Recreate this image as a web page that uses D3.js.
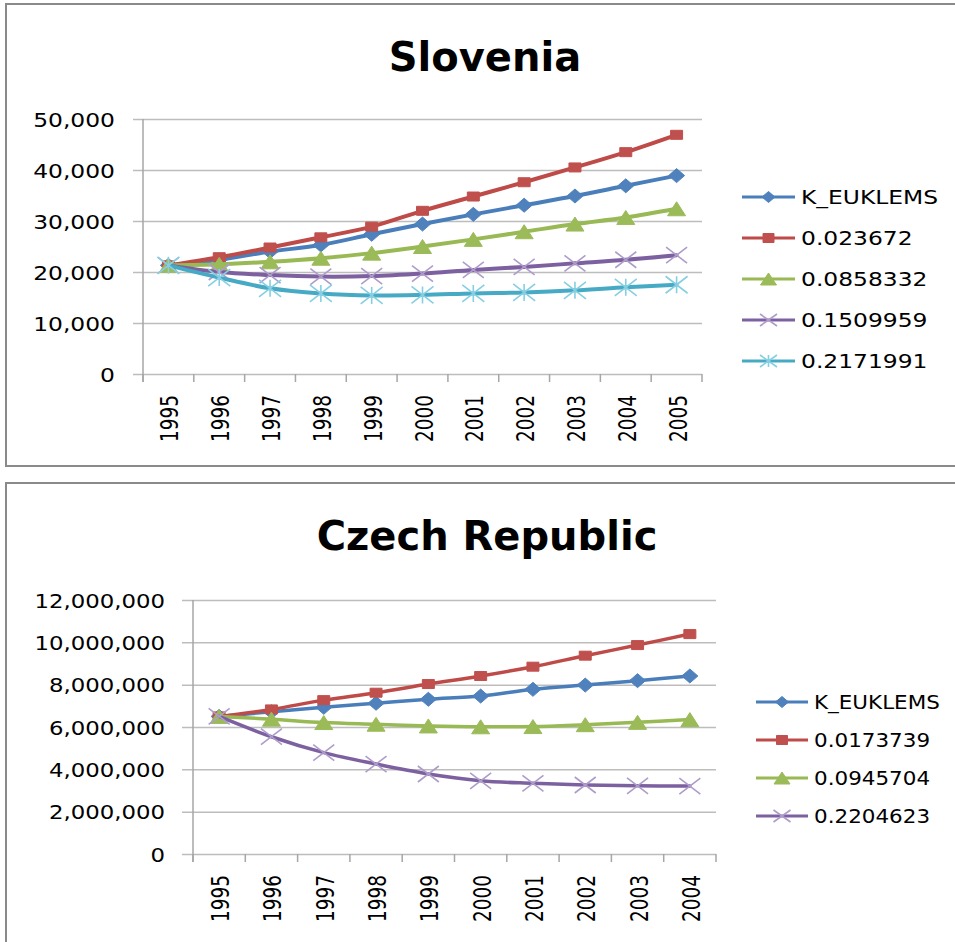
<!DOCTYPE html>
<html>
<head>
<meta charset="utf-8">
<script src="https://cdn.jsdelivr.net/npm/d3@7/dist/d3.min.js"></script>
<style>
  html, body { margin: 0; padding: 0; background: #fff; }
  svg { display: block; font-family: "DejaVu Sans", Verdana, sans-serif; }
</style>
</head>
<body>
<svg id="chart" width="955" height="942"></svg>
<script>
// ---------- data ----------
const sloYears = ["1995","1996","1997","1998","1999","2000","2001","2002","2003","2004","2005"];
const sloNames = ["K_EUKLEMS","0.023672","0.0858332","0.1509959","0.2171991"];
const sloK  = [21300, 22400, 24000, 25300, 27400, 29400, 31300, 33100, 34900, 36900, 38900];
const slo1  = [21300, 22900, 24800, 26800, 28900, 32000, 34800, 37600, 40500, 43500, 46900];
const slo2  = [21300, 21500, 22000, 22700, 23700, 25000, 26400, 27900, 29400, 30700, 32400];
const slo3  = [21300, 20000, 19400, 19100, 19200, 19700, 20400, 21000, 21700, 22400, 23300];
const slo4  = [21300, 18900, 16800, 15800, 15400, 15500, 15800, 16000, 16400, 17000, 17500];
const sloTicks = [0, 10000, 20000, 30000, 40000, 50000];

const czYears = ["1995","1996","1997","1998","1999","2000","2001","2002","2003","2004"];
const czNames = ["K_EUKLEMS","0.0173739","0.0945704","0.2204623"];
const czK = [6500000, 6720000, 6930000, 7120000, 7310000, 7460000, 7780000, 7980000, 8190000, 8410000];
const cz1 = [6500000, 6830000, 7270000, 7620000, 8030000, 8410000, 8850000, 9370000, 9870000, 10390000];
const cz2 = [6500000, 6370000, 6210000, 6130000, 6050000, 6010000, 6020000, 6110000, 6220000, 6350000];
const cz3 = [6500000, 5540000, 4790000, 4250000, 3780000, 3460000, 3340000, 3260000, 3220000, 3210000];
const czTicks = [0, 2000000, 4000000, 6000000, 8000000, 10000000, 12000000];

// ---------- styles ----------
const styles = [
  {line:"#4A7EBB", mark:"#4F81BD", shape:"diamond"},
  {line:"#BE4B48", mark:"#C0504D", shape:"square"},
  {line:"#98B954", mark:"#9BBB59", shape:"triangle"},
  {line:"#7D60A0", mark:"#AE9CCB", shape:"x"},
  {line:"#46AAC5", mark:"#86CFE2", shape:"star"}
];
const sizes = {
  diamond:[16,14], square:[12,9], triangle:[18,14], x:[21,16], star:[22,17]
};
const legSizes = {
  diamond:[13,11], square:[11,9], triangle:[16,12], x:[17,12], star:[17,12]
};

function markerPath(shape, w, h) {
  const a = w/2, b = h/2;
  switch (shape) {
    case "diamond": return `M0,${-b}L${a},0L0,${b}L${-a},0Z`;
    case "square": return `M${-a},${-b}L${a},${-b}L${a},${b}L${-a},${b}Z`;
    case "triangle": return `M0,${-b}L${a},${b}L${-a},${b}Z`;
    case "x": return `M${-a},${-b}L${a},${b}M${a},${-b}L${-a},${b}`;
    case "star": return `M${-a},${-b}L${a},${b}M${a},${-b}L${-a},${b}M0,${-b}L0,${b}`;
  }
}
function drawMarker(g, shape, color, w, h) {
  const filled = shape === "diamond" || shape === "square" || shape === "triangle";
  g.append("path").attr("d", markerPath(shape, w, h))
    .attr("fill", filled ? color : "none")
    .attr("stroke", color)
    .attr("stroke-width", filled ? 1 : 1.6);
}

const svg = d3.select("#chart");

function drawChart(cfg) {
  const g = svg.append("g");
  // frame
  g.append("rect").attr("x", cfg.frame[0]).attr("y", cfg.frame[1])
    .attr("width", cfg.frame[2]).attr("height", cfg.frame[3])
    .attr("fill", "#fff").attr("stroke", "#8a8a8a").attr("stroke-width", 2);
  // title
  g.append("text").attr("x", cfg.titleX).attr("y", cfg.titleY)
    .attr("text-anchor", "middle").attr("font-weight", "bold")
    .attr("font-size", 40).attr("fill", "#000").text(cfg.title);

  const x = d3.scaleBand().domain(cfg.years).range([cfg.left, cfg.right]).padding(0);
  const y = d3.scaleLinear().domain([0, cfg.ticks[cfg.ticks.length-1]]).range([cfg.bottom, cfg.top]);
  const cx = d => x(d) + x.bandwidth()/2;

  // gridlines + y labels via axis
  const ya = g.append("g").attr("transform", `translate(${cfg.right},0)`)
    .call(d3.axisLeft(y).tickValues(cfg.ticks).tickSize(cfg.right - cfg.left + cfg.ytick).tickFormat(d3.format(",")));
  ya.select(".domain").remove();
  ya.selectAll(".tick line").attr("stroke", "#bdbdbd").attr("stroke-width", 1.5);
  ya.selectAll(".tick text")
    .attr("x", 0).attr("dy", "0.36em")
    .attr("font-size", cfg.yFont).attr("fill", "#000")
    .attr("font-family", "DejaVu Sans, sans-serif")
    .attr("text-anchor", "end")
    .attr("transform", `translate(${cfg.yLabelRight - cfg.right},0) scale(1.17,1)`);

  // y axis line
  g.append("line").attr("x1", cfg.left).attr("x2", cfg.left)
    .attr("y1", y(cfg.ticks[cfg.ticks.length-1])).attr("y2", cfg.bottom + cfg.xtick)
    .attr("stroke", "#a6a6a6").attr("stroke-width", 1.5);
  // x ticks at band boundaries
  const bounds = cfg.years.map(d => x(d)).concat([cfg.right]);
  g.selectAll(".xt").data(bounds).enter().append("line")
    .attr("x1", d => d).attr("x2", d => d)
    .attr("y1", cfg.bottom).attr("y2", cfg.bottom + cfg.xtick)
    .attr("stroke", "#a6a6a6").attr("stroke-width", 1.5);
  // x labels (rotated)
  g.selectAll(".xl").data(cfg.years).enter().append("text")
    .attr("transform", d => `translate(${cx(d) + 10},${cfg.xLabelTop}) rotate(-90) scale(1,1.3)`)
    .attr("text-anchor", "end").attr("font-size", 18.5).attr("fill", "#000")
    .text(d => d);

  // series
  const line = d3.line().x((d,i) => cx(cfg.years[i])).y(d => y(d)).curve(d3.curveCatmullRom.alpha(0.5));
  cfg.series.forEach((vals, si) => {
    const st = styles[si];
    g.append("path").attr("d", line(vals)).attr("fill", "none")
      .attr("stroke", st.line).attr("stroke-width", cfg.lineW)
      .attr("stroke-linejoin", "round").attr("stroke-linecap", "round");
    const [w, h] = sizes[st.shape];
    vals.forEach((v, i) => {
      const mg = g.append("g").attr("transform", `translate(${cx(cfg.years[i])},${y(v)})`);
      drawMarker(mg, st.shape, st.mark, w, h);
    });
  });

  // legend
  cfg.names.forEach((name, si) => {
    const st = styles[si];
    const ly = cfg.legY[si];
    const lg = g.append("g").attr("transform", `translate(0,${ly})`);
    lg.append("line").attr("x1", cfg.legX0).attr("x2", cfg.legX1).attr("y1", 0).attr("y2", 0)
      .attr("stroke", st.line).attr("stroke-width", 3);
    const [w, h] = legSizes[st.shape];
    const mg = lg.append("g").attr("transform", `translate(${(cfg.legX0 + cfg.legX1)/2},0)`);
    drawMarker(mg, st.shape, st.mark, w, h);
    lg.append("text").attr("transform", `translate(${cfg.legText},0) scale(${cfg.legScale},1)`)
      .attr("dy", "0.36em").attr("font-size", cfg.legFont).attr("fill", "#000").text(name);
  });
}

drawChart({
  frame: [6, 4, 1000, 462],
  title: "Slovenia", titleX: 485, titleY: 71,
  years: sloYears, ticks: sloTicks, names: sloNames,
  series: [sloK, slo1, slo2, slo3, slo4],
  left: 143, right: 702, top: 119, bottom: 374,
  ytick: 10, xtick: 8, yLabelRight: 115, yFont: 20,
  xLabelTop: 395, lineW: 4,
  legX0: 742, legX1: 795, legText: 801, legFont: 20, legScale: 1.17,
  legY: [197, 238, 279, 320, 361]
});

drawChart({
  frame: [6, 483, 1000, 500],
  title: "Czech Republic", titleX: 487, titleY: 550,
  years: czYears, ticks: czTicks, names: czNames,
  series: [czK, cz1, cz2, cz3],
  left: 193, right: 716, top: 600, bottom: 854,
  ytick: 11, xtick: 8, yLabelRight: 165, yFont: 19.5,
  xLabelTop: 875, lineW: 3.5,
  legX0: 756, legX1: 808, legText: 814, legFont: 19, legScale: 1.13,
  legY: [702, 740, 778, 816]
});
</script>
</body>
</html>
